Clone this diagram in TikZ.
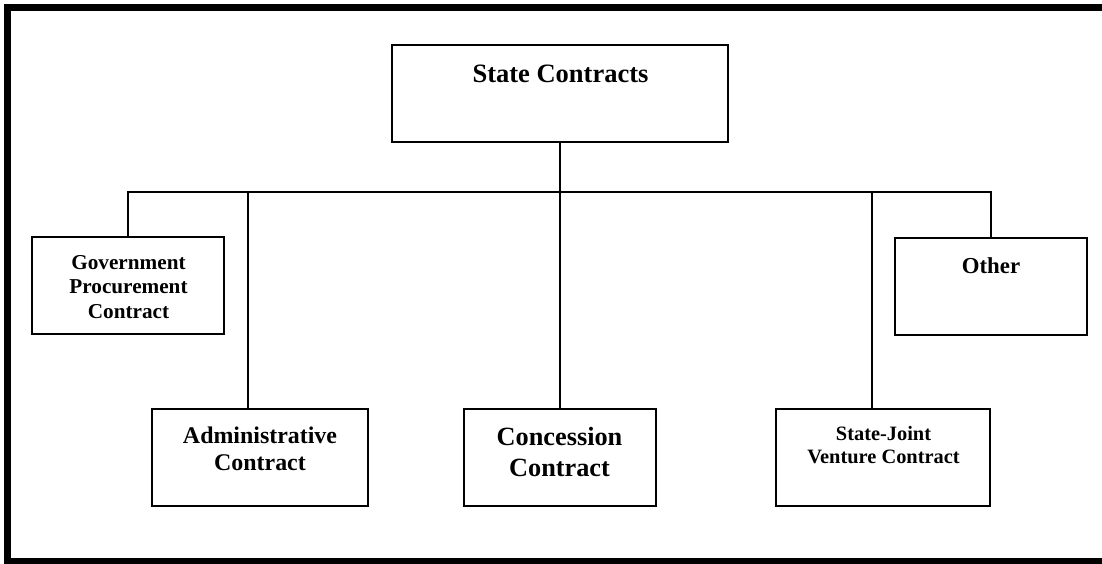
\documentclass[tikz,border=0pt]{standalone}
\usepackage{fontspec}
\setmainfont{Liberation Serif}
\begin{document}
\begin{tikzpicture}[x=1pt,y=-1pt,
  box/.style={draw=black, line width=2pt, rectangle, inner sep=0pt},
  lbl/.style={align=center, anchor=base, inner sep=0pt},
  link/.style={draw=black, line width=2pt}]
\useasboundingbox (0,0) rectangle (1102,563);
\clip (0,0) rectangle (1102,563);
% outer frame (right side lies outside the picture)
\draw[line width=6.5pt] (7.5,7.5) rectangle (1130,561);
% boxes
\node[box, minimum width=336pt, minimum height=97pt] (state) at (560,93.5) {};
\node[box, minimum width=192pt, minimum height=97pt] (gov) at (128,285.5) {};
\node[box, minimum width=216pt, minimum height=97pt] (adm) at (260,457.5) {};
\node[box, minimum width=192pt, minimum height=97pt] (conc) at (560,457.5) {};
\node[box, minimum width=214pt, minimum height=97pt] (sjv) at (883,457.5) {};
\node[box, minimum width=192pt, minimum height=97pt] (other) at (991,286.5) {};
% labels (anchor = baseline of the last line)
\node[lbl, font=\fontsize{26.5}{30}\selectfont\bfseries] (state-t) at (560.5,82) {State Contracts};
\node[lbl, font=\fontsize{21.2}{24.5}\selectfont\bfseries] (gov-t) at (128.5,318) {Government\\Procurement\\Contract};
\node[lbl, font=\fontsize{23.9}{27}\selectfont\bfseries] (adm-t) at (260,470) {Administrative\\Contract};
\node[lbl, font=\fontsize{26.3}{31}\selectfont\bfseries] (conc-t) at (559.5,476) {Concession\\Contract};
\node[lbl, font=\fontsize{20.4}{23}\selectfont\bfseries] (sjv-t) at (883.5,463) {State-Joint\\Venture Contract};
\node[lbl, font=\fontsize{22.8}{26}\selectfont\bfseries] (other-t) at (991,273) {Other};
% connectors
\coordinate (bus) at (560,192);
\draw[link] (state.south) -- (state.south |- bus);
\draw[link] (gov.north) -- (gov.north |- bus) -- (other.north |- bus) -- (other.north);
\draw[link] ([xshift=-12pt]adm.north) -- ([xshift=-12pt]adm.north |- bus);
\draw[link] (conc.north) -- (conc.north |- bus);
\draw[link] ([xshift=-11pt]sjv.north) -- ([xshift=-11pt]sjv.north |- bus);
\end{tikzpicture}
\end{document}
